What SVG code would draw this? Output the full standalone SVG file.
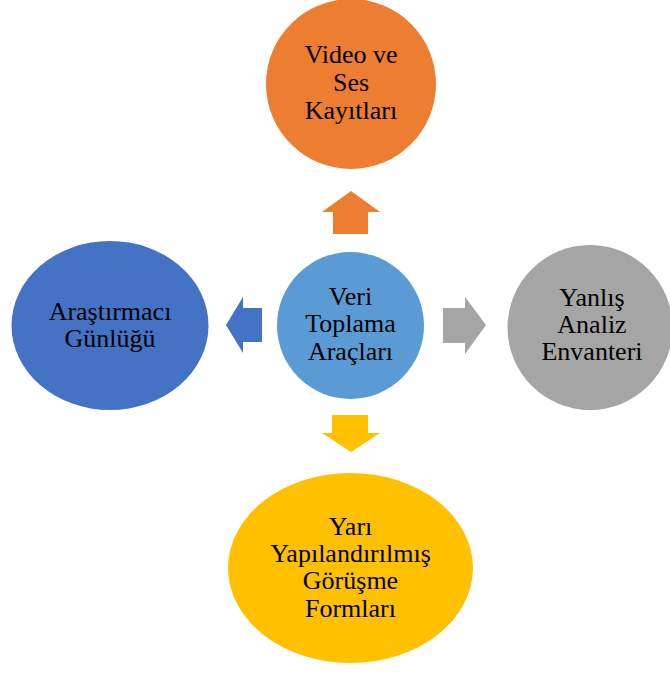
<svg xmlns="http://www.w3.org/2000/svg" width="670" height="673" viewBox="0 0 670 673">
<style>
text{font-family:"Liberation Serif","Times New Roman",serif;font-size:26px;fill:#000;text-anchor:middle}
</style>
<rect width="670" height="673" fill="#fff"/>
<g id="connectors">
<polygon fill="#ED7D31" points="351,191 380,212 368,212 368,234 333,234 333,212 322,212"/>
<polygon fill="#4472C4" points="226,325 243,297 243,308 262,308 262,342 243,342 243,353"/>
<polygon fill="#A5A5A5" points="486,325 465,297 465,308 443,308 443,343 465,343 465,354"/>
<polygon fill="#FFC000" points="351,452 380,433 368,433 368,415 332,415 332,433 322,433"/>
</g>
<g id="top">
<circle cx="351" cy="84" r="85" fill="#ED7D31"/>
<text x="351" y="63">Video ve</text>
<text x="351" y="91">Ses</text>
<text x="351" y="119">Kayıtları</text>
</g>
<g id="left">
<ellipse cx="110" cy="325.5" rx="98.5" ry="84.5" fill="#4472C4"/>
<text x="110" y="320">Araştırmacı</text>
<text x="110" y="347">Günlüğü</text>
</g>
<g id="center">
<circle cx="350.5" cy="325.5" r="73.5" fill="#5B9BD5"/>
<text x="350.5" y="305">Veri</text>
<text x="350.5" y="332">Toplama</text>
<text x="350.5" y="360">Araçları</text>
</g>
<g id="right">
<circle cx="590" cy="327.5" r="82.5" fill="#A5A5A5"/>
<text x="592" y="306">Yanlış</text>
<text x="592" y="333">Analiz</text>
<text x="592" y="360">Envanteri</text>
</g>
<g id="bottom">
<ellipse cx="350.5" cy="568" rx="122.5" ry="95" fill="#FFC000"/>
<text x="350.5" y="535">Yarı</text>
<text x="350.5" y="562">Yapılandırılmış</text>
<text x="350.5" y="589">Görüşme</text>
<text x="350.5" y="617">Formları</text>
</g>
</svg>
